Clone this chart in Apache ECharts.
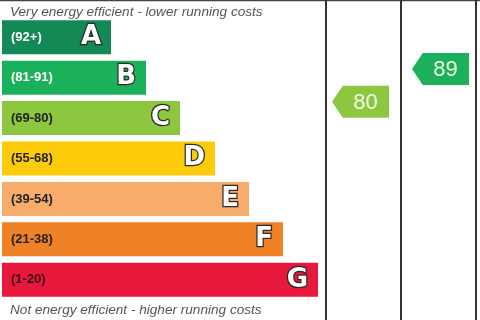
<!DOCTYPE html>
<html><head><meta charset="utf-8">
<script src="https://cdn.jsdelivr.net/npm/echarts@6/dist/echarts.min.js"></script>
<style>html,body{margin:0;padding:0;background:#fff}#c{width:480px;height:320px}</style>
</head><body><div id="c"></div>
<script>
const bands = ['A','B','C','D','E','F','G'];
const ranges = ['(92+)','(81-91)','(69-80)','(55-68)','(39-54)','(21-38)','(1-20)'];
const barLengths = [109,144,178,213,247,281,316];
const bandColors = ['#138a56','#1bb05a','#8dc63f','#fdcb0a','#f7ac6c','#ef8126','#e8173c'];
const rangeTextColors = ['#ffffff','#ffffff','#222222','#222222','#222222','#222222','#3a0c12'];
const columns = ['Current','Potential'];
const ratings = [80, 89];
const ratingColors = ['#8dc63f','#1bb05a'];
const topText = 'Very energy efficient - lower running costs';
const bottomText = 'Not energy efficient - higher running costs';

const chart = echarts.init(document.getElementById('c'));
const arrowPath = 'path://M0,16 L11,0 L58,0 L58,32 L11,32 Z';
chart.setOption({
  animation:false,
  backgroundColor:'#fff',
  title:[
    {text:topText,left:5,top:0,textStyle:{fontFamily:'Liberation Sans',fontStyle:'italic',fontWeight:'normal',fontSize:13.6,color:'#555'}},
    {text:bottomText,left:5,top:298,textStyle:{fontFamily:'Liberation Sans',fontStyle:'italic',fontWeight:'normal',fontSize:13.6,color:'#555'}}
  ],
  grid:[
    {left:2,top:17,width:316,height:283},
    {left:326,right:4,top:0,bottom:0}
  ],
  xAxis:[
    {type:'value',gridIndex:0,min:0,max:316,show:false},
    {type:'category',gridIndex:1,data:columns,axisLabel:{show:false},axisTick:{show:false},axisLine:{show:false},
     splitLine:{show:true,lineStyle:{color:'#333',width:2}}}
  ],
  yAxis:[
    {type:'category',gridIndex:0,data:bands,inverse:true,show:false},
    {type:'value',gridIndex:1,min:20,max:108,show:false}
  ],
  graphic:[{type:'line',shape:{x1:0,y1:0.5,x2:480,y2:0.5},style:{stroke:'#444',lineWidth:1.5}}],
  series:[
    {type:'bar',xAxisIndex:0,yAxisIndex:0,barWidth:34,
     data:barLengths.map((v,i)=>({value:v,itemStyle:{color:bandColors[i]},
       label:{color:rangeTextColors[i]}})),
     label:{show:true,position:'insideLeft',distance:9,formatter:p=>ranges[p.dataIndex],
       fontFamily:'Liberation Sans',fontWeight:'bold',fontSize:13}},
    {type:'bar',xAxisIndex:0,yAxisIndex:0,barWidth:34,barGap:'-100%',
     data:barLengths,itemStyle:{color:'rgba(0,0,0,0)'},
     label:{show:true,position:'insideRight',distance:10,formatter:p=>bands[p.dataIndex],
       fontFamily:'DejaVu Sans',fontWeight:'bold',fontSize:26,color:'#fff',
       textBorderColor:'#2a2a2a',textBorderWidth:2.5}},
    {type:'scatter',xAxisIndex:1,yAxisIndex:1,symbol:arrowPath,symbolSize:[57,32],
     data:ratings.map((v,i)=>({value:[columns[i],v],itemStyle:{color:ratingColors[i],opacity:1},
       symbolOffset:[i===0?-3:2,0]})),
     label:{show:true,position:'inside',offset:[5,1],formatter:p=>p.value[1],
       fontFamily:'Liberation Sans',fontSize:22,color:'#f3fbe6'}}
  ]
});
</script></body></html>
